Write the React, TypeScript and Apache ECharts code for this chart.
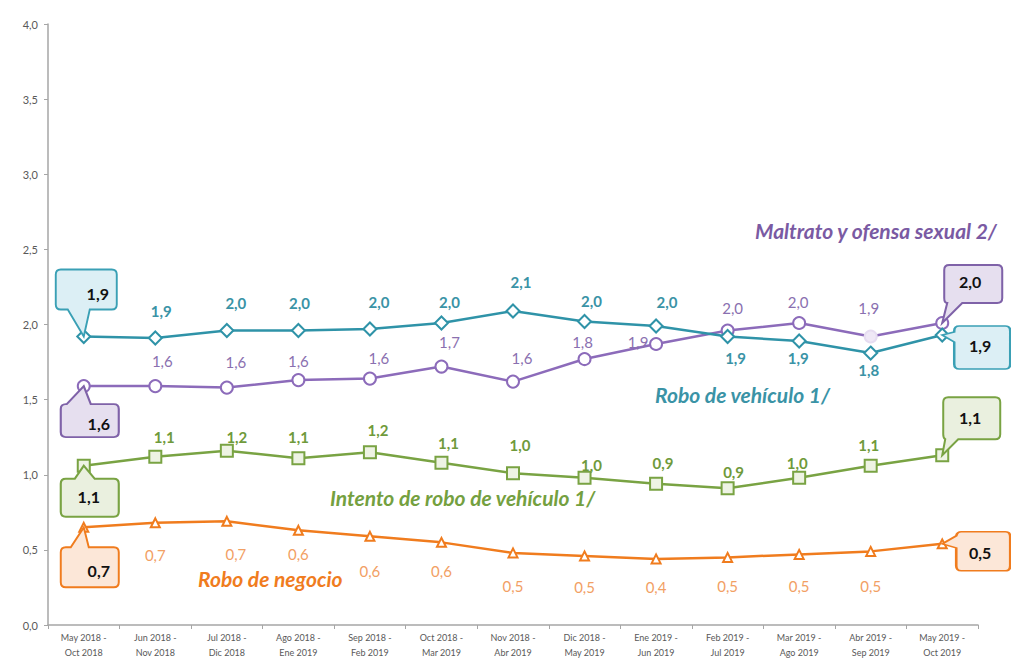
import React, { useEffect, useRef } from "react";
import * as echarts from "echarts";

const categories = [
  "May 2018 -\nOct 2018",
  "Jun 2018 -\nNov 2018",
  "Jul 2018 -\nDic 2018",
  "Ago 2018 -\nEne 2019",
  "Sep 2018 -\nFeb 2019",
  "Oct 2018 -\nMar 2019",
  "Nov 2018 -\nAbr 2019",
  "Dic 2018 -\nMay 2019",
  "Ene 2019 -\nJun 2019",
  "Feb 2019 -\nJul 2019",
  "Mar 2019 -\nAgo 2019",
  "Abr 2019 -\nSep 2019",
  "May 2019 -\nOct 2019",
];

const yTicks = { min: 0, max: 4, interval: 0.5 };

const roboVehiculo = [1.92, 1.91, 1.96, 1.96, 1.97, 2.01, 2.09, 2.02, 1.99, 1.92, 1.89, 1.81, 1.93];
const maltrato = [1.59, 1.59, 1.58, 1.63, 1.64, 1.72, 1.62, 1.77, 1.87, 1.96, 2.01, 1.92, 2.01];
const intentoRobo = [1.06, 1.12, 1.16, 1.11, 1.15, 1.08, 1.01, 0.98, 0.94, 0.91, 0.98, 1.06, 1.13];
const roboNegocio = [0.65, 0.68, 0.69, 0.63, 0.59, 0.55, 0.48, 0.46, 0.44, 0.45, 0.47, 0.49, 0.54];

const seriesNames = [
  "Robo de vehículo 1/",
  "Maltrato y ofensa sexual 2/",
  "Intento de robo de vehículo 1/",
  "Robo de negocio",
];

// label placement (pixel offsets from each point), styling only
const tealDx = [0, 6, 9, 1, 9, 8, 8, 7, 11, 8, -1, -2, 0];
const tealDy = [0, -27, -28, -28, -27, -21, -29, -20, -24, 21, 17, 17, 0];
const purpDx = [0, 7, 9, 0, 9, 8, 9, -2, -18, 5, -1, -2, 0];
const purpDy = [0, -25, -26, -19, -21, -25, -24, -17, -2, -23, -21, -29, 0];
const greenDx = [0, 9, 10, 0, 8, 7, 7, 7, 7, 6, -2, -2, 0];
const greenDy = [0, -20, -14, -21, -22, -20, -28, -13, -21, -16, -15, -21, 0];
const orangeDx = [0, 0, 9, 0, 0, 0, 0, 0, 0, 0, 0, 0, 0];
const orangeDy = [0, 32, 33, 24, 35, 29, 33, 31, 28, 29, 32, 35, 0];

const fmt = (v: number) => (Math.round(v * 10 + 1e-6) / 10).toFixed(1).replace(".", ",");

const FONT = "Lato, 'Open Sans', sans-serif";

function bubble(path: string, size: number[], offset: number[], labelOffset: number[], idx: number, values: number[], fill: string, border: string) {
  return {
    coord: [idx, values[idx]],
    value: values[idx],
    symbol: "path://" + path,
    symbolSize: size,
    symbolOffset: offset,
    itemStyle: { color: fill, borderColor: border, borderWidth: 2 },
    label: { offset: labelOffset },
  };
}

function makeSeries(opts: any) {
  const { name, values, color, labelColor, labelWeight, symbol, size, fill, dx, dy, callouts, special } = opts;
  return {
    name,
    type: "line",
    data: values.map((v: number, i: number) => {
      const item: any = {
        value: v,
        label: i === 0 || i === values.length - 1 ? { show: false } : { offset: [dx[i], dy[i]] },
      };
      if (special && special[i]) item.itemStyle = special[i];
      return item;
    }),
    symbol,
    symbolSize: size,
    showAllSymbol: true,
    lineStyle: { color, width: 2.5 },
    itemStyle: { color: fill, borderColor: color, borderWidth: 2 },
    label: {
      show: true,
      position: "inside",
      color: labelColor,
      fontFamily: FONT,
      fontSize: 15,
      fontWeight: labelWeight,
      formatter: (p: any) => fmt(p.value),
    },
    markPoint: {
      silent: true,
      label: {
        show: true,
        position: "inside",
        color: "#111",
        fontFamily: FONT,
        fontSize: 16,
        fontWeight: "bold",
        formatter: (p: any) => fmt(p.value),
      },
      data: callouts,
    },
    z: 3,
  };
}

export default function App() {
  const ref = useRef<HTMLDivElement>(null);
  useEffect(() => {
    if (!ref.current) return;
    const chart = echarts.init(ref.current, undefined, { renderer: "svg" });
    const teal = "#2F93A8";
    const purple = "#8C6BBA";
    const green = "#79A343";
    const orange = "#F07C1E";

    const option: any = {
      animation: false,
      backgroundColor: "#fff",
      grid: { left: 48, right: 33, top: 24, bottom: 36 },
      xAxis: {
        type: "category",
        data: categories,
        boundaryGap: true,
        axisLine: { lineStyle: { color: "#A6A6A6", width: 1.5 } },
        axisTick: { show: true, length: 4, lineStyle: { color: "#A6A6A6" } },
        axisLabel: {
          interval: 0,
          color: "#595959",
          fontSize: 9,
          lineHeight: 15,
          margin: 5,
          fontFamily: FONT,
        },
      },
      yAxis: {
        type: "value",
        min: yTicks.min,
        max: yTicks.max,
        interval: yTicks.interval,
        axisLine: { show: true, lineStyle: { color: "#A6A6A6", width: 1.5 } },
        axisTick: { show: true, length: 4, lineStyle: { color: "#A6A6A6" } },
        splitLine: { show: false },
        axisLabel: {
          color: "#595959",
          fontSize: 11,
          margin: 10,
          fontFamily: FONT,
          formatter: (v: number) => v.toFixed(1).replace(".", ","),
        },
      },
      graphic: [
        { type: "text", left: 755, top: 220, style: { text: seriesNames[1], fill: "#7A5AA3", font: `italic bold 21px ${FONT}` } },
        { type: "text", left: 655, top: 384, style: { text: seriesNames[0], fill: "#3A93A6", font: `italic bold 21px ${FONT}` } },
        { type: "text", left: 330, top: 487, style: { text: seriesNames[2], fill: "#74A03F", font: `italic bold 21px ${FONT}` } },
        { type: "text", left: 198, top: 568, style: { text: seriesNames[3], fill: "#F07C1E", font: `italic bold 21px ${FONT}` } },
      ],
      series: [
        makeSeries({
          name: seriesNames[2],
          values: intentoRobo,
          color: green,
          labelColor: "#6F9A3B",
          labelWeight: "bold",
          symbol: "rect",
          size: 12,
          fill: "#EEF3E4",
          dx: greenDx,
          dy: greenDy,
          callouts: [
            bubble("M5,13 H14 L23,0 L34,13 H53 Q58,13 58,18 V46 Q58,51 53,51 H5 Q0,51 0,46 V18 Q0,13 5,13 Z", [58, 51], [6, 25.5], [-1, 5.5], 0, intentoRobo, "#EAF0DF", green),
            bubble("M6,0 H53 Q58,0 58,5 V37 Q58,42 53,42 H16 L0,58 L3,42 Q1,41 1,37 V5 Q1,0 6,0 Z", [58, 58], [29, -29], [-1, -9], 12, intentoRobo, "#EAF0DF", green),
          ],
        }),
        makeSeries({
          name: seriesNames[3],
          values: roboNegocio,
          color: orange,
          labelColor: "#F2A064",
          labelWeight: "normal",
          symbol: "triangle",
          size: 9,
          fill: "#fff",
          dx: orangeDx,
          dy: orangeDy,
          callouts: [
            bubble("M5,20 H10 L23,0 L28,20 H53 Q58,20 58,25 V55 Q58,60 53,60 H5 Q0,60 0,55 V25 Q0,20 5,20 Z", [58, 60], [6, 30], [9, 13], 0, roboNegocio, "#FCE7D8", orange),
            bubble("M19,0 H63 Q68,0 68,5 V34 Q68,39 63,39 H19 Q14,39 14,34 V16 L0,12 L14,4 Q15,0 19,0 Z", [68, 39], [34, 7.5], [4, 1.5], 12, roboNegocio, "#FCE7D8", orange),
          ],
        }),
        makeSeries({
          name: seriesNames[1],
          values: maltrato,
          color: purple,
          labelColor: "#8A70B0",
          labelWeight: "normal",
          symbol: "circle",
          size: 12,
          fill: "#fff",
          dx: purpDx,
          dy: purpDy,
          special: { 11: { color: "#EFE8F6", borderColor: "#E6DCF1" } },
          callouts: [
            bubble("M5,18 H6 L23,0 L30,18 H53 Q58,18 58,23 V46 Q58,51 53,51 H5 Q0,51 0,46 V23 Q0,18 5,18 Z", [58, 51], [6, 25.5], [9, 11.5], 0, maltrato, "#E6DFEF", "#7F62A8"),
            bubble("M7,0 H55 Q60,0 60,5 V33 Q60,38 55,38 H20 L0,58 L5,38 Q2,38 2,33 V5 Q2,0 7,0 Z", [60, 58], [30, -29], [-2, -12], 12, maltrato, "#E6DFEF", "#7F62A8"),
          ],
        }),
        makeSeries({
          name: seriesNames[0],
          values: roboVehiculo,
          color: teal,
          labelColor: "#3A93A6",
          labelWeight: "bold",
          symbol: "diamond",
          size: 13,
          fill: "#fff",
          dx: tealDx,
          dy: tealDy,
          callouts: [
            bubble("M5,0 H56 Q61,0 61,5 V35 Q61,40 56,40 H34 L28,67 L12,40 H5 Q0,40 0,35 V5 Q0,0 5,0 Z", [61, 67], [2.5, -33.5], [11.5, -9.5], 0, roboVehiculo, "#DCEFF5", "#3AA0B5"),
            bubble("M17,0 H63 Q68,0 68,5 V38 Q68,43 63,43 H17 Q12,43 12,38 V16 L0,9 L12,6 V5 Q12,0 17,0 Z", [68, 43], [34, 12.5], [4, -2.5], 12, roboVehiculo, "#DCEFF5", "#3AA0B5"),
          ],
        }),
      ],
    };
    chart.setOption(option);
    return () => chart.dispose();
  }, []);
  return (
    <div
      ref={ref}
      style={{ position: "fixed", left: 0, top: 0, width: 1011, height: 661 }}
    />
  );
}
